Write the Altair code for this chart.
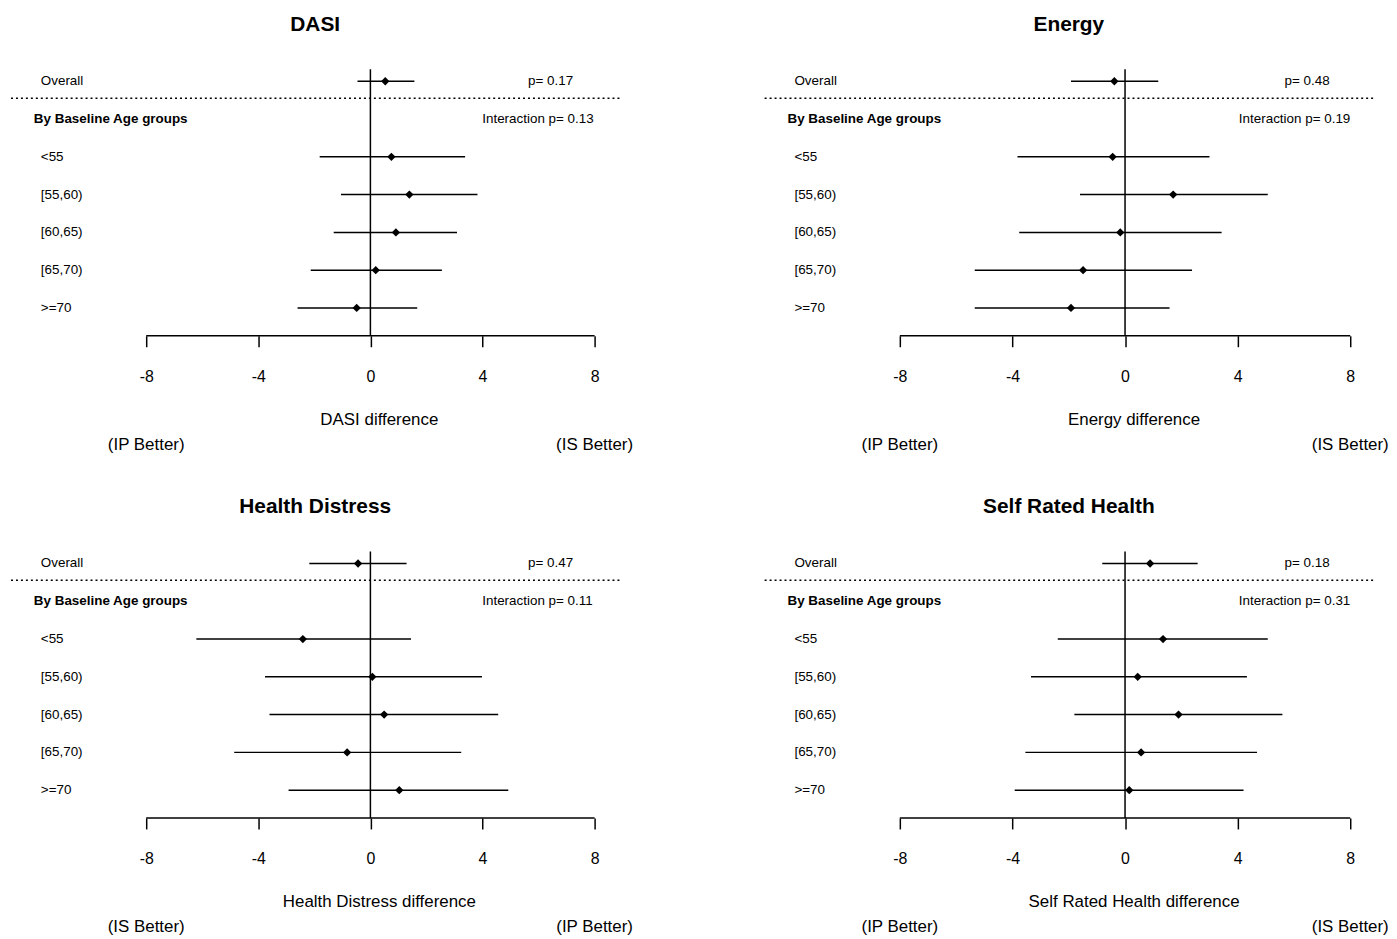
import altair as alt
import pandas as pd

FONT = "Liberation Sans"

groups = ["<55", "[55,60)", "[60,65)", "[65,70)", ">=70"]
panel_titles = ["DASI", "Energy", "Health Distress", "Self Rated Health"]
left_labels = ["(IP Better)", "(IP Better)", "(IS Better)", "(IP Better)"]
right_labels = ["(IS Better)", "(IS Better)", "(IP Better)", "(IS Better)"]
overall_p = ["p= 0.17", "p= 0.48", "p= 0.47", "p= 0.18"]
interaction_p = ["Interaction p= 0.13", "Interaction p= 0.19",
                 "Interaction p= 0.11", "Interaction p= 0.31"]
tick_values = [-8, -4, 0, 4, 8]

# order: Overall, <55, [55,60), [60,65), [65,70), >=70
dasi_est = [0.53, 0.75, 1.39, 0.91, 0.19, -0.49]
dasi_lo = [-0.46, -1.81, -1.05, -1.31, -2.13, -2.60]
dasi_hi = [1.57, 3.38, 3.82, 3.09, 2.55, 1.67]

energy_est = [-0.38, -0.44, 1.71, -0.17, -1.49, -1.92]
energy_lo = [-1.92, -3.82, -1.60, -3.76, -5.34, -5.34]
energy_hi = [1.18, 3.00, 5.07, 3.43, 2.38, 1.58]

hd_est = [-0.44, -2.41, 0.07, 0.49, -0.83, 1.03]
hd_lo = [-2.18, -6.21, -3.76, -3.60, -4.86, -2.92]
hd_hi = [1.29, 1.45, 3.98, 4.56, 3.24, 4.92]

srh_est = [0.89, 1.35, 0.45, 1.90, 0.57, 0.15]
srh_lo = [-0.81, -2.39, -3.34, -1.80, -3.54, -3.92]
srh_hi = [2.58, 5.07, 4.33, 5.59, 4.69, 4.21]

ests = [dasi_est, energy_est, hd_est, srh_est]
los = [dasi_lo, energy_lo, hd_lo, srh_lo]
his = [dasi_hi, energy_hi, hd_hi, srh_hi]

row_pos = [0, 2, 3, 4, 5, 6]
row_names = ["Overall"] + groups

W, H = 612, 268
XDOMS = [[-12.825, 8.887], [-12.804, 8.812]]
P_X = [[520, 474], [523, 477]]
YDOM = [-0.316, 6.737]


def panel(i):
    col = i % 2
    df = pd.DataFrame({"row": row_pos, "label": row_names,
                       "est": ests[i], "lo": los[i], "hi": his[i]})
    xscale = alt.Scale(domain=XDOMS[col], nice=False, zero=False)
    yscale = alt.Scale(domain=YDOM, nice=False, zero=False, reverse=True)
    y = alt.Y("row:Q", scale=yscale, axis=None)
    base = alt.Chart(df)

    ci = base.mark_rule(color="black", strokeWidth=1.5).encode(
        x=alt.X("lo:Q", scale=xscale,
                axis=alt.Axis(values=tick_values, domain=False, grid=False,
                              tickSize=11, tickWidth=1.5, tickColor="black",
                              labelFontSize=16, labelPadding=22,
                              labelColor="black", labelFont=FONT,
                              labelExpr="datum.value + ''",
                              title=None)),
        x2="hi:Q",
        y=y,
    )
    pts = base.mark_point(shape="diamond", filled=True, color="black",
                          size=70, opacity=1).encode(
        x=alt.X("est:Q", scale=xscale, axis=alt.Axis(title=None)),
        y=y,
    )
    labels = base.mark_text(align="left", baseline="middle", fontSize=13.5,
                            font=FONT, color="black").encode(
        x=alt.value(30), y=y, text="label:N")

    heading = alt.Chart(pd.DataFrame({"row": [1], "t": ["By Baseline Age groups"]})).mark_text(
        align="left", baseline="middle", fontSize=13.5, fontWeight="bold",
        font=FONT, color="black").encode(x=alt.value(23), y=y, text="t:N")

    pv = alt.Chart(pd.DataFrame({"row": [0], "t": [overall_p[i]]})).mark_text(
        align="left", baseline="middle", fontSize=13.5, font=FONT,
        color="black").encode(x=alt.value(P_X[col][0]), y=y, text="t:N")
    ipv = alt.Chart(pd.DataFrame({"row": [1], "t": [interaction_p[i]]})).mark_text(
        align="left", baseline="middle", fontSize=13.5, font=FONT,
        color="black").encode(x=alt.value(P_X[col][1]), y=y, text="t:N")

    zero = alt.Chart(pd.DataFrame({"v": [0]})).mark_rule(
        color="black", strokeWidth=1.5).encode(
        x=alt.X("v:Q", scale=xscale, axis=alt.Axis(title=None)),
        y=alt.value(0), y2=alt.value(H))

    dotted = alt.Chart(pd.DataFrame({"row": [0.447]})).mark_rule(
        color="black", strokeWidth=1.5, strokeDash=[2, 3]).encode(
        x=alt.value(0), x2=alt.value(W), y=y)

    axline = alt.Chart(pd.DataFrame({"a": [-8], "b": [8]})).mark_rule(
        color="black", strokeWidth=1.5).encode(
        x=alt.X("a:Q", scale=xscale, axis=alt.Axis(title=None)),
        x2="b:Q", y=alt.value(H))

    name = panel_titles[i] + " difference"
    atitle = alt.Chart(pd.DataFrame({"x": [0.32], "t": [name]})).mark_text(
        align="center", baseline="middle", fontSize=17, font=FONT,
        color="black").encode(
        x=alt.X("x:Q", scale=xscale, axis=alt.Axis(title=None)),
        y=alt.value(353), text="t:N")

    side = alt.Chart(pd.DataFrame({"x": [-8, 8],
                                   "t": [left_labels[i], right_labels[i]]})).mark_text(
        align="center", baseline="middle", fontSize=17, font=FONT,
        color="black").encode(
        x=alt.X("x:Q", scale=xscale, axis=alt.Axis(title=None)),
        y=alt.value(378), text="t:N")

    return alt.layer(zero, axline, dotted, ci, pts, labels, heading, pv, ipv,
                     atitle, side).properties(
        width=W, height=H,
        title=alt.TitleParams(panel_titles[i], fontSize=21, fontWeight="bold",
                              font=FONT, anchor="middle", baseline="alphabetic",
                              offset=17, color="black"))


chart = alt.concat(*[panel(i) for i in range(4)], columns=2,
                   spacing={"row": 217, "column": 146}, bounds="flush").properties(
    padding={"left": 2, "top": 3, "right": 0, "bottom": 0}
).configure(font=FONT).configure_view(stroke=None)

chart.save("out.html", embed_options={"renderer": "svg", "actions": False})
